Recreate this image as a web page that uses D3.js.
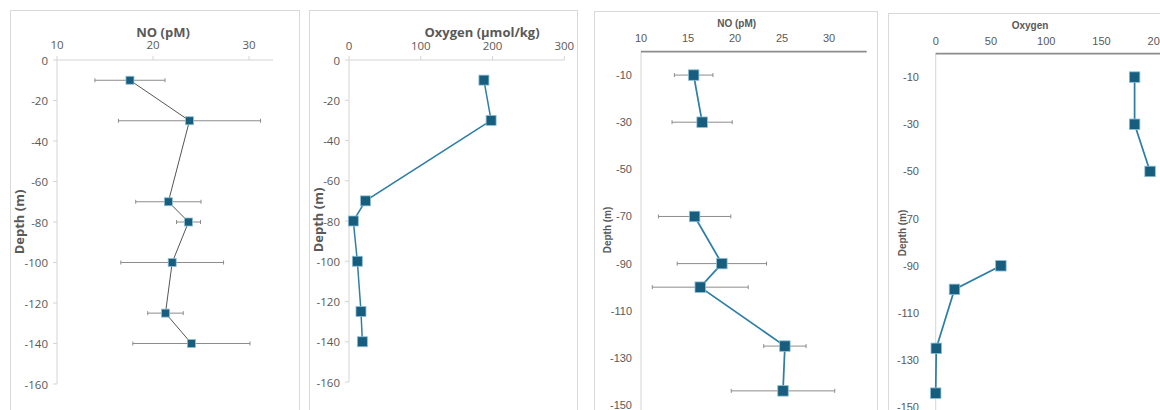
<!DOCTYPE html>
<html>
<head>
<meta charset="utf-8">
<script src="https://cdn.jsdelivr.net/npm/d3@7"></script>
<style>
  html,body{margin:0;padding:0;background:#fff;}
  svg{display:block;}
</style>
</head>
<body>
<svg id="chart" width="1160" height="410"></svg>
<script>
// ---- Data ----
// Panel 1: NO (pM)
const p1Depth = [-10, -30, -70, -80, -100, -125, -140];
const p1NO    = [17.6, 23.8, 21.6, 23.7, 22.0, 21.3, 24.0];
const p1Err   = [3.65, 7.4, 3.4, 1.25, 5.35, 1.85, 6.1];
const p1XTicks = [10, 20, 30];
const p1YTicks = [0, -20, -40, -60, -80, -100, -120, -140, -160];

// Panel 2: Oxygen (µmol/kg)
const p2Depth  = [-10, -30, -70, -80, -100, -125, -140];
const p2Oxygen = [188, 198, 23, 6, 11.6, 16.7, 18.6];
const p2XTicks = [0, 100, 200, 300];
const p2YTicks = [0, -20, -40, -60, -80, -100, -120, -140, -160];

// Panel 3: NO (pM)
const p3Depth = [-10, -30, -50, -70, -90, -100, -125, -144];
const p3NO    = [15.6, 16.5, null, 15.7, 18.6, 16.3, 25.3, 25.1];
const p3Err   = [2.05, 3.2, null, 3.85, 4.75, 5.1, 2.25, 5.5];
const p3XTicks = [10, 15, 20, 25, 30];
const p3YTicks = [-10, -30, -50, -70, -90, -110, -130, -150];

// Panel 4: Oxygen
const p4Depth  = [-10, -30, -50, -70, -90, -100, -125, -144];
const p4Oxygen = [180, 180, 194, null, 59, 17, 0.5, 0];
const p4XTicks = [0, 50, 100, 150, 200];
const p4YTicks = [-10, -30, -50, -70, -90, -110, -130, -150];

const svg = d3.select("#chart");
const MARK = "#175d7e";
const MARK_STROKE = "#8fbfd6";
const TEAL_LINE = "#2f7fa5";
const TICK_COL = "#595959";

function panel(cfg) {
  const g = svg.append("g");
  g.append("rect")
    .attr("x", cfg.box[0] + 0.5).attr("y", cfg.box[1] + 0.5)
    .attr("width", cfg.box[2]).attr("height", cfg.box[3])
    .attr("fill", "#fff").attr("stroke", "#d9d9d9").attr("stroke-width", 1);

  const x = d3.scaleLinear().domain(cfg.xDomain).range(cfg.xRange);
  const y = d3.scaleLinear().domain(cfg.yDomain).range(cfg.yRange);

  g.append("line")
    .attr("x1", x(cfg.xDomain[0])).attr("x2", x(cfg.xDomain[0]))
    .attr("y1", y(cfg.yDomain[0])).attr("y2", cfg.yAxisEnd !== undefined ? cfg.yAxisEnd : y(cfg.yDomain[1]))
    .attr("stroke", "#d4d4d4").attr("stroke-width", 1);

  if (cfg.yTickMarks) {
    g.selectAll(null).data(cfg.yTicks).enter().append("line")
      .attr("x1", x(cfg.xDomain[0]) - 4).attr("x2", x(cfg.xDomain[0]))
      .attr("y1", d => y(d)).attr("y2", d => y(d))
      .attr("stroke", "#d4d4d4");
  }

  g.append("line")
    .attr("x1", x(cfg.xDomain[0])).attr("x2", cfg.xAxisEnd !== undefined ? cfg.xAxisEnd : x(cfg.xDomain[1]))
    .attr("y1", y(cfg.yDomain[0])).attr("y2", y(cfg.yDomain[0]))
    .attr("stroke", cfg.xAxisColor).attr("stroke-width", cfg.xAxisWidth);

  if (cfg.xTickMarks) {
    g.selectAll(null).data(cfg.xTicks).enter().append("line")
      .attr("x1", d => x(d)).attr("x2", d => x(d))
      .attr("y1", y(cfg.yDomain[0]) - 4).attr("y2", y(cfg.yDomain[0]))
      .attr("stroke", "#d4d4d4");
  }

  g.selectAll(null).data(cfg.xTicks).enter().append("text")
    .attr("x", d => x(d)).attr("y", cfg.xLabelY)
    .attr("text-anchor", "middle").attr("dominant-baseline", "central")
    .attr("font-family", cfg.font).attr("font-size", cfg.tickSize)
    .attr("fill", TICK_COL).text(d => d);

  g.selectAll(null).data(cfg.yTicks).enter().append("text")
    .attr("x", cfg.yLabelX).attr("y", d => y(d))
    .attr("text-anchor", "end").attr("dominant-baseline", "central")
    .attr("font-family", cfg.font).attr("font-size", cfg.tickSize)
    .attr("fill", TICK_COL).text(d => d);

  g.append("text")
    .attr("x", cfg.title[1]).attr("y", cfg.title[2])
    .attr("text-anchor", "middle").attr("dominant-baseline", "central")
    .attr("font-family", cfg.font).attr("font-weight", "bold")
    .attr("font-size", cfg.titleSize).attr("fill", TICK_COL).text(cfg.title[0]);

  g.append("text")
    .attr("transform", `translate(${cfg.yTitle[0]},${cfg.yTitle[1]}) rotate(-90)`)
    .attr("text-anchor", "middle").attr("dominant-baseline", "central")
    .attr("font-family", cfg.font).attr("font-weight", "bold")
    .attr("font-size", cfg.titleSize).attr("fill", TICK_COL).text("Depth (m)");

  const pts = cfg.depth.map((d, i) => ({ d, v: cfg.values[i], e: cfg.err ? cfg.err[i] : null }));

  if (cfg.err) {
    const eb = pts.filter(p => p.v != null && p.e != null);
    const eg = g.append("g").attr("stroke", "#8c8c8c").attr("stroke-width", 1);
    eg.selectAll(null).data(eb).enter().append("line")
      .attr("x1", p => x(p.v - p.e)).attr("x2", p => x(p.v + p.e))
      .attr("y1", p => y(p.d)).attr("y2", p => y(p.d));
    eg.selectAll(null).data(eb).enter().append("line")
      .attr("x1", p => x(p.v - p.e)).attr("x2", p => x(p.v - p.e))
      .attr("y1", p => y(p.d) - 2).attr("y2", p => y(p.d) + 2);
    eg.selectAll(null).data(eb).enter().append("line")
      .attr("x1", p => x(p.v + p.e)).attr("x2", p => x(p.v + p.e))
      .attr("y1", p => y(p.d) - 2).attr("y2", p => y(p.d) + 2);
  }

  const line = d3.line().defined(p => p.v != null).x(p => x(p.v)).y(p => y(p.d));
  g.append("path").datum(pts).attr("d", line)
    .attr("fill", "none").attr("stroke", cfg.lineColor).attr("stroke-width", cfg.lineWidth);

  const s = cfg.markerSize;
  g.selectAll(null).data(pts.filter(p => p.v != null)).enter().append("rect")
    .attr("x", p => x(p.v) - s / 2).attr("y", p => y(p.d) - s / 2)
    .attr("width", s).attr("height", s)
    .attr("fill", MARK).attr("stroke", MARK_STROKE).attr("stroke-width", 0.8);
}

panel({
  box: [10, 10, 289, 420],
  xDomain: [10, 32.5], xRange: [57, 273],
  yDomain: [0, -160], yRange: [60, 384],
  xTicks: p1XTicks, yTicks: p1YTicks,
  xAxisColor: "#d4d4d4", xAxisWidth: 1, xTickMarks: true, yTickMarks: true,
  xLabelY: 44.5, yLabelX: 48,
  font: "'Open Sans', 'Noto Sans', sans-serif", tickSize: 11.5, titleSize: 13,
  title: ["NO (pM)", 163, 31.5], yTitle: [19, 222],
  depth: p1Depth, values: p1NO, err: p1Err,
  lineColor: "#555555", lineWidth: 1, markerSize: 8
});

panel({
  box: [309, 10, 268, 420],
  xDomain: [0, 300], xRange: [349, 564.3],
  yDomain: [0, -160], yRange: [60, 382],
  xTicks: p2XTicks, yTicks: p2YTicks,
  xAxisColor: "#d4d4d4", xAxisWidth: 1, xTickMarks: true, yTickMarks: true,
  xLabelY: 45, yLabelX: 340,
  font: "'Open Sans', 'Noto Sans', sans-serif", tickSize: 11.5, titleSize: 13,
  title: ["Oxygen (µmol/kg)", 482, 31.5], yTitle: [318, 220],
  depth: p2Depth, values: p2Oxygen, err: null,
  lineColor: TEAL_LINE, lineWidth: 1.5, markerSize: 10
});

panel({
  box: [594, 11, 283, 420],
  xDomain: [10, 34], xRange: [641, 866.7],
  yDomain: [0, -150], yRange: [51.5, 405],
  yAxisEnd: 420,
  xTicks: p3XTicks, yTicks: p3YTicks,
  xAxisColor: "#8c8c8c", xAxisWidth: 1.75, xTickMarks: false, yTickMarks: false,
  xLabelY: 38, yLabelX: 632,
  font: "'Liberation Sans', Arial, sans-serif", tickSize: 11, titleSize: 10,
  title: ["NO (pM)", 736.7, 23], yTitle: [607, 230],
  depth: p3Depth, values: p3NO, err: p3Err,
  lineColor: TEAL_LINE, lineWidth: 1.75, markerSize: 10.5
});

panel({
  box: [888, 13, 290, 420],
  xDomain: [0, 200], xRange: [935.7, 1156.7],
  xAxisEnd: 1175,
  yDomain: [0, -150], yRange: [53.5, 407.3],
  yAxisEnd: 420,
  xTicks: p4XTicks, yTicks: p4YTicks,
  xAxisColor: "#8c8c8c", xAxisWidth: 1.75, xTickMarks: false, yTickMarks: false,
  xLabelY: 41, yLabelX: 919,
  font: "'Liberation Sans', Arial, sans-serif", tickSize: 11, titleSize: 10,
  title: ["Oxygen", 1030, 25], yTitle: [902, 233],
  depth: p4Depth, values: p4Oxygen, err: null,
  lineColor: TEAL_LINE, lineWidth: 1.75, markerSize: 10.5
});
</script>
</body>
</html>
